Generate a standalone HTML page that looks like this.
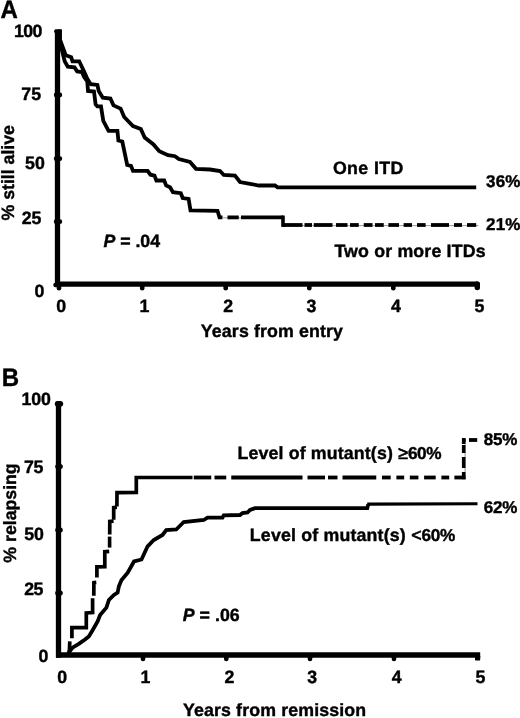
<!DOCTYPE html>
<html lang="en">
<head>
<meta charset="utf-8">
<title>Figure</title>
<style>
html,body{margin:0;padding:0;background:#fff;}
body{width:520px;height:718px;overflow:hidden;}
svg{display:block;filter:grayscale(1) blur(0.3px);}
svg text{font-family:"Liberation Sans", Arial, Helvetica, sans-serif;font-weight:bold;fill:#000;stroke:#000;stroke-width:0.4px;text-rendering:geometricPrecision;}
</style>
</head>
<body>
<svg width="520" height="718" viewBox="0 0 520 718">
<rect width="520" height="718" fill="#fff"/>
<line x1="57.5" y1="29.5" x2="57.5" y2="286.8" stroke="#000" stroke-width="5.3"/>
<line x1="55" y1="284.1" x2="477.3" y2="284.1" stroke="#000" stroke-width="5.4"/>
<circle cx="477.3" cy="284.1" r="2.7" fill="#000"/>
<line x1="477.3" y1="284.1" x2="477.3" y2="287.6" stroke="#000" stroke-width="5.4" stroke-linecap="round"/>
<line x1="56" y1="31.3" x2="58" y2="31.3" stroke="#000" stroke-width="3.8" stroke-linecap="round"/>
<line x1="56.2" y1="95" x2="59.8" y2="95" stroke="#000" stroke-width="4.8" stroke-linecap="round"/>
<line x1="56.2" y1="158.7" x2="59.8" y2="158.7" stroke="#000" stroke-width="4.8" stroke-linecap="round"/>
<line x1="56.2" y1="221.7" x2="59.8" y2="221.7" stroke="#000" stroke-width="4.8" stroke-linecap="round"/>
<line x1="55.5" y1="285" x2="58" y2="285" stroke="#000" stroke-width="4.5" stroke-linecap="round"/>
<line x1="59" y1="285" x2="59" y2="288.3" stroke="#000" stroke-width="4.6" stroke-linecap="round"/>
<line x1="142.2" y1="285" x2="142.2" y2="288.3" stroke="#000" stroke-width="4.6" stroke-linecap="round"/>
<line x1="225.7" y1="285" x2="225.7" y2="288.3" stroke="#000" stroke-width="4.6" stroke-linecap="round"/>
<line x1="309.3" y1="285" x2="309.3" y2="288.3" stroke="#000" stroke-width="4.6" stroke-linecap="round"/>
<line x1="393.3" y1="285" x2="393.3" y2="288.3" stroke="#000" stroke-width="4.6" stroke-linecap="round"/>
<polyline points="59.9,29.5 59.9,39.5 65.8,55.3 71.2,57.3 72.5,61.3 79.2,61.3 84,71.4 87.3,78.8 90.7,84.2 97.4,84.9 98.7,91 102.8,97.7 110.4,98.5 113.5,105.4 120.6,108.6 124.2,117 133,126 140.8,128.9 144.7,137.6 153.5,144.5 159.3,151.3 168,155.2 175,156.2 178.8,159 190,162 196,168.8 210,169.5 220,171 223.8,175 235,175.5 240,182 250,183.8 258.8,185.5 275,185.5 277.5,187.3 476.2,187.3" fill="none" stroke="#000" stroke-width="3.8" stroke-linejoin="miter" stroke-linecap="butt" />
<polyline points="59.9,29.5 59.9,42 64.7,61.3 67.8,66.7 74.5,67.4 77.2,71.4 82,72 84,76.8 87.3,81.5 88,91 94,91.6 95.6,104.5 97.4,106.4 101,106.4 103.3,121 108.6,130.8 117.4,130.8 118.4,140.5 122.3,141.5 127.2,165 131,165.9 133,170.8 147.6,170.8 150.5,174.7 154.5,175.6 156.4,180.5 164.2,180.5 166.1,185.4 170,187.3 173,192.2 180.8,193.2 182.7,198 188.6,199 190.5,210.3 217.5,210.8 219.5,217.4 222.5,217.4" fill="none" stroke="#000" stroke-width="3.8" stroke-linejoin="miter" stroke-linecap="butt" />
<line x1="222" y1="217.8" x2="283" y2="217.8" stroke="#9a9a9a" stroke-width="1"/>
<line x1="283" y1="225.6" x2="478.5" y2="225.6" stroke="#9a9a9a" stroke-width="1"/>
<line x1="227.5" y1="217.4" x2="238.75" y2="217.4" stroke="#000" stroke-width="3.8"/>
<line x1="241" y1="217.4" x2="283" y2="217.4" stroke="#000" stroke-width="3.8"/>
<line x1="283" y1="215.5" x2="283" y2="226.9" stroke="#000" stroke-width="3.6"/>
<line x1="283" y1="225" x2="302.5" y2="225" stroke="#000" stroke-width="3.8"/>
<line x1="304.5" y1="225" x2="312" y2="225" stroke="#000" stroke-width="3.8"/>
<line x1="313.75" y1="225" x2="332.5" y2="225" stroke="#000" stroke-width="3.8"/>
<line x1="336" y1="225" x2="347.5" y2="225" stroke="#000" stroke-width="3.8"/>
<line x1="350" y1="225" x2="358.75" y2="225" stroke="#000" stroke-width="3.8"/>
<line x1="363.75" y1="225" x2="372.5" y2="225" stroke="#000" stroke-width="3.8"/>
<line x1="375" y1="225" x2="383.75" y2="225" stroke="#000" stroke-width="3.8"/>
<line x1="388.4" y1="225" x2="399" y2="225" stroke="#000" stroke-width="3.8"/>
<line x1="403.6" y1="225" x2="412" y2="225" stroke="#000" stroke-width="3.8"/>
<line x1="417" y1="225" x2="425.6" y2="225" stroke="#000" stroke-width="3.8"/>
<line x1="431" y1="225" x2="449" y2="225" stroke="#000" stroke-width="3.8"/>
<line x1="454" y1="225" x2="462" y2="225" stroke="#000" stroke-width="3.8"/>
<line x1="467" y1="225" x2="476.2" y2="225" stroke="#000" stroke-width="3.8"/>
<text transform="translate(0.57,18.40) scale(0.95,1)" font-size="25.3">A</text>
<text x="13.97" y="37.30" font-size="17.75" letter-spacing="-0.660">100</text>
<text x="21.34" y="100.00" font-size="17.75" letter-spacing="0.057">75</text>
<text x="25.03" y="169.00" font-size="17.75" letter-spacing="0.220">50</text>
<text x="21.74" y="224.20" font-size="17.75" letter-spacing="-0.146">25</text>
<text x="34.51" y="296.90" font-size="17.75" letter-spacing="0.000">0</text>
<text x="56.21" y="312.40" font-size="17.75" letter-spacing="0.000">0</text>
<text x="139.38" y="312.40" font-size="17.75" letter-spacing="0.000">1</text>
<text x="223.17" y="312.40" font-size="17.75" letter-spacing="0.000">2</text>
<text x="306.62" y="312.40" font-size="17.75" letter-spacing="0.000">3</text>
<text x="390.90" y="312.40" font-size="17.75" letter-spacing="0.000">4</text>
<text x="474.46" y="312.40" font-size="17.75" letter-spacing="0.000">5</text>
<text transform="translate(13.70,220.53) rotate(-90)" font-size="17.75" letter-spacing="-0.017">% still alive</text>
<text x="200.86" y="336.50" font-size="17.75" letter-spacing="0.130">Years from entry</text>
<text x="103.48" y="246.80" font-size="17.75" letter-spacing="-0.028"><tspan font-style="italic">P</tspan> = .04</text>
<text x="332.93" y="173.50" font-size="17.75" letter-spacing="0.383">One ITD</text>
<text x="334.41" y="256.80" font-size="17.75" letter-spacing="0.169">Two or more ITDs</text>
<text x="485.99" y="187.00" font-size="17" letter-spacing="0.208">36%</text>
<text x="485.99" y="230.30" font-size="17" letter-spacing="0.206">21%</text>
<line x1="58.5" y1="401.5" x2="58.5" y2="657.7" stroke="#000" stroke-width="5.3"/>
<line x1="56" y1="655" x2="480.2" y2="655" stroke="#000" stroke-width="5.4"/>
<rect x="475" y="655" width="5.2" height="5.6" rx="1.2" fill="#000"/>
<line x1="57.7" y1="403.8" x2="60.3" y2="403.8" stroke="#000" stroke-width="5.8" stroke-linecap="round"/>
<line x1="57.7" y1="466.5" x2="60.3" y2="466.5" stroke="#000" stroke-width="5" stroke-linecap="round"/>
<line x1="57.7" y1="530" x2="60.3" y2="530" stroke="#000" stroke-width="5" stroke-linecap="round"/>
<line x1="57.7" y1="593" x2="60.3" y2="593" stroke="#000" stroke-width="5" stroke-linecap="round"/>
<line x1="143" y1="655.5" x2="143" y2="659" stroke="#000" stroke-width="4.6" stroke-linecap="round"/>
<line x1="226.3" y1="655.5" x2="226.3" y2="659" stroke="#000" stroke-width="4.6" stroke-linecap="round"/>
<line x1="310" y1="655.5" x2="310" y2="659" stroke="#000" stroke-width="4.6" stroke-linecap="round"/>
<line x1="394" y1="655.5" x2="394" y2="659" stroke="#000" stroke-width="4.6" stroke-linecap="round"/>
<polyline points="68.3,653 69.4,651.5 72.5,647.7 78.8,643.9 85,639.5 88.8,636.4 92.6,630.2 97.6,621.4 100.1,615.1 106.4,607.6 108.9,600 113.9,595 117.6,592.6 118.9,586.3 121.4,580.3 127.7,572.7 134,561.5 141.5,559.5 147.6,546.3 153.75,540 162.5,535 166.25,530 176.25,529.5 183.75,522 203.75,520 207.5,517.6 222.5,517.6 223.75,515.3 240,515 242.5,513 247.5,512.5 250,510 255,508.2 367.3,508 368.2,504.6" fill="none" stroke="#000" stroke-width="3.8" stroke-linejoin="miter" stroke-linecap="butt" />
<polyline points="367.2,504.1 477.5,503.8" fill="none" stroke="#000" stroke-width="3.1" stroke-linejoin="miter" stroke-linecap="butt" />
<polyline points="69.3,653 69.8,641.4" fill="none" stroke="#000" stroke-width="3.7" stroke-linejoin="miter" stroke-linecap="butt" />
<polyline points="71.9,638.3 71.9,627.7 86.3,627.7 86.3,613 92.6,612.6 92.6,598.2" fill="none" stroke="#000" stroke-width="3.7" stroke-linejoin="miter" stroke-linecap="butt" />
<polyline points="93.8,595.7 93.9,582.6 96.3,582.4" fill="none" stroke="#000" stroke-width="3.7" stroke-linejoin="miter" stroke-linecap="butt" />
<polyline points="96.9,577.5 96.9,566.8 104.8,566.7 104.8,551.8 109.2,551.4" fill="none" stroke="#000" stroke-width="3.7" stroke-linejoin="miter" stroke-linecap="butt" />
<line x1="109.6" y1="547.6" x2="109.6" y2="536.6" stroke="#000" stroke-width="3.6"/>
<polyline points="109.7,534.4 109.8,521.4 113.6,521.2" fill="none" stroke="#000" stroke-width="3.7" stroke-linejoin="miter" stroke-linecap="butt" />
<polyline points="113.7,519.8 113.7,507.6 116.9,507.2" fill="none" stroke="#000" stroke-width="3.7" stroke-linejoin="miter" stroke-linecap="butt" />
<polyline points="116.9,506.6 117,492.6 136.3,492.4 136.3,477.5 192.5,477.5" fill="none" stroke="#000" stroke-width="3.7" stroke-linejoin="miter" stroke-linecap="butt" />
<line x1="193.75" y1="477.5" x2="211.25" y2="477.5" stroke="#000" stroke-width="3.8"/>
<line x1="214.5" y1="477.5" x2="226.25" y2="477.5" stroke="#000" stroke-width="3.8"/>
<line x1="231.25" y1="477.5" x2="302.5" y2="477.5" stroke="#000" stroke-width="3.8"/>
<line x1="307.5" y1="477.5" x2="325" y2="477.5" stroke="#000" stroke-width="3.8"/>
<line x1="328" y1="477.5" x2="337.5" y2="477.5" stroke="#000" stroke-width="3.8"/>
<line x1="342.5" y1="477.5" x2="376.25" y2="477.5" stroke="#000" stroke-width="3.8"/>
<line x1="382" y1="477.5" x2="390.7" y2="477.5" stroke="#000" stroke-width="3.8"/>
<line x1="396.4" y1="477.5" x2="404.2" y2="477.5" stroke="#000" stroke-width="3.8"/>
<line x1="409.8" y1="477.5" x2="418.4" y2="477.5" stroke="#000" stroke-width="3.8"/>
<line x1="424.1" y1="477.5" x2="435.7" y2="477.5" stroke="#000" stroke-width="3.8"/>
<line x1="441.4" y1="477.5" x2="449.2" y2="477.5" stroke="#000" stroke-width="3.8"/>
<line x1="454.4" y1="477.5" x2="465.6" y2="477.5" stroke="#000" stroke-width="3.8"/>
<line x1="465.1" y1="440" x2="465.1" y2="478" stroke="#8a8a8a" stroke-width="0.9"/>
<line x1="463.7" y1="479.2" x2="463.7" y2="472" stroke="#000" stroke-width="3.6"/>
<line x1="463.7" y1="468" x2="463.7" y2="457" stroke="#000" stroke-width="3.6"/>
<line x1="463.7" y1="453" x2="463.7" y2="445" stroke="#000" stroke-width="3.6"/>
<line x1="463.7" y1="444" x2="463.7" y2="438.4" stroke="#000" stroke-width="3.6"/>
<line x1="462" y1="440" x2="465.6" y2="440" stroke="#000" stroke-width="3.8"/>
<line x1="469" y1="440" x2="477.2" y2="440" stroke="#000" stroke-width="3.8"/>
<text transform="translate(1.68,385.90) scale(0.95,1)" font-size="25.3">B</text>
<text x="21.47" y="404.60" font-size="17.75" letter-spacing="-0.160">100</text>
<text x="23.94" y="472.60" font-size="17.75" letter-spacing="-0.243">75</text>
<text x="24.23" y="540.40" font-size="17.75" letter-spacing="-0.080">50</text>
<text x="24.19" y="594.50" font-size="17.75" letter-spacing="-0.496">25</text>
<text x="38.46" y="662.00" font-size="17.75" letter-spacing="0.000">0</text>
<text x="57.31" y="683.30" font-size="17.75" letter-spacing="0.000">0</text>
<text x="140.38" y="683.30" font-size="17.75" letter-spacing="0.000">1</text>
<text x="224.42" y="683.30" font-size="17.75" letter-spacing="0.000">2</text>
<text x="307.37" y="683.30" font-size="17.75" letter-spacing="0.000">3</text>
<text x="391.85" y="683.30" font-size="17.75" letter-spacing="0.000">4</text>
<text x="475.61" y="683.30" font-size="17.75" letter-spacing="0.000">5</text>
<text transform="translate(16.30,562.63) rotate(-90)" font-size="17.75" letter-spacing="-0.031">% relapsing</text>
<text x="182.96" y="715.80" font-size="17.75" letter-spacing="0.141">Years from remission</text>
<text x="182.73" y="621.00" font-size="17.75" letter-spacing="0.045"><tspan font-style="italic">P</tspan> = .06</text>
<text x="237.60" y="458.60" font-size="17.75" letter-spacing="0.138">Level of mutant(s)</text>
<text x="398.19" y="458.60" font-size="17.75" letter-spacing="0.000"><tspan font-weight="normal" stroke-width="0.7">≥</tspan></text>
<text x="408.03" y="458.60" font-size="17.2" letter-spacing="-0.459">60%</text>
<text x="249.85" y="540.60" font-size="17.75" letter-spacing="0.176">Level of mutant(s)</text>
<text x="411.26" y="540.60" font-size="17.75" letter-spacing="0.000"><tspan font-weight="normal" stroke-width="0.7">&lt;</tspan></text>
<text x="421.43" y="540.60" font-size="17.2" letter-spacing="-0.259">60%</text>
<text x="483.77" y="445.10" font-size="17" letter-spacing="-0.232">85%</text>
<text x="483.73" y="512.90" font-size="17" letter-spacing="-0.211">62%</text>
</svg>
</body>
</html>
